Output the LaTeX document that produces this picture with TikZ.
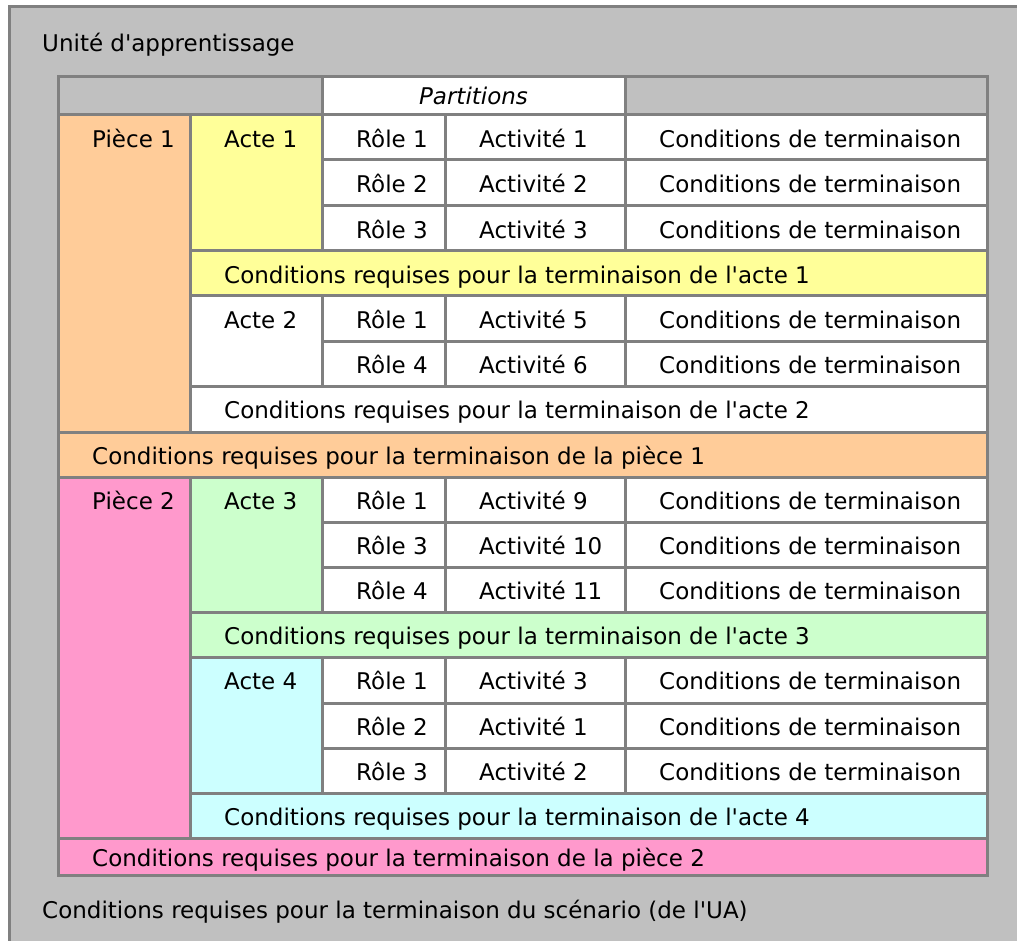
\documentclass[tikz,border=0pt]{standalone}
\usepackage{fontspec}
\setmainfont{DejaVu Sans}[Ligatures=TeXOff]
\definecolor{bggray}{HTML}{C0C0C0}
\definecolor{linegray}{HTML}{808080}
\definecolor{peach}{HTML}{FFCC99}
\definecolor{lyellow}{HTML}{FFFF99}
\definecolor{lgreen}{HTML}{CCFFCC}
\definecolor{lcyan}{HTML}{CCFFFF}
\definecolor{lpink}{HTML}{FF99CC}
\tikzset{
  cellbox/.style={draw=linegray, line width=3pt},
  celltext/.style={anchor=base west, inner sep=0pt, font=\fontsize{23}{27}\selectfont},
}
% name, x1, y1, x2, y2, fill, text
\newcommand\tcell[7]{%
  \filldraw[cellbox, fill=#6] (#2,#3) rectangle (#4,#5);
  \node[celltext] (#1) at ({#2+34},{#3+32.5}) {#7};}
% name, y1, y2, role, activity
\newcommand\rowcells[5]{%
  \tcell{#1r}{322}{#2}{445}{#3}{white}{#4}
  \tcell{#1a}{445}{#2}{625}{#3}{white}{#5}
  \tcell{#1c}{625}{#2}{987}{#3}{white}{Conditions de terminaison}}
\begin{document}
\begin{tikzpicture}[x=1pt,y=-1pt]
\useasboundingbox (0,0) rectangle (1017,941);
\clip (0,0) rectangle (1017,941);
\fill[white] (0,0) rectangle (1017,941);
\filldraw[fill=bggray, draw=linegray, line width=3pt] (9,7) rectangle (1040,960);
\node[celltext] (titre) at (42,51.5) {Unité d'apprentissage};
% header
\filldraw[cellbox, fill=bggray] (58,77) rectangle (322,115);
\filldraw[cellbox, fill=white] (322,77) rectangle (625,115);
\filldraw[cellbox, fill=bggray] (625,77) rectangle (987,115);
\node[celltext, anchor=base, font=\fontsize{23}{27}\selectfont\itshape] (partitions) at (473.5,104.5) {Partitions};
% Piece 1
\tcell{p1}{58}{115}{190}{432}{peach}{Pièce 1}
\tcell{a1}{190}{115}{322}{251}{lyellow}{Acte 1}
\rowcells{a1x}{115}{160}{Rôle 1}{Activité 1}
\rowcells{a1y}{160}{206}{Rôle 2}{Activité 2}
\rowcells{a1z}{206}{251}{Rôle 3}{Activité 3}
\tcell{ca1}{190}{251}{987}{296}{lyellow}{Conditions requises pour la terminaison de l'acte 1}
\tcell{a2}{190}{296}{322}{386}{white}{Acte 2}
\rowcells{a2x}{296}{341}{Rôle 1}{Activité 5}
\rowcells{a2y}{341}{386}{Rôle 4}{Activité 6}
\tcell{ca2}{190}{386}{987}{432}{white}{Conditions requises pour la terminaison de l'acte 2}
\tcell{cp1}{58}{432}{987}{477}{peach}{Conditions requises pour la terminaison de la pièce 1}
% Piece 2
\tcell{p2}{58}{477}{190}{838}{lpink}{Pièce 2}
\tcell{a3}{190}{477}{322}{612}{lgreen}{Acte 3}
\rowcells{a3x}{477}{522}{Rôle 1}{Activité 9}
\rowcells{a3y}{522}{567}{Rôle 3}{Activité 10}
\rowcells{a3z}{567}{612}{Rôle 4}{Activité 11}
\tcell{ca3}{190}{612}{987}{657}{lgreen}{Conditions requises pour la terminaison de l'acte 3}
\tcell{a4}{190}{657}{322}{793}{lcyan}{Acte 4}
\rowcells{a4x}{657}{703}{Rôle 1}{Activité 3}
\rowcells{a4y}{703}{748}{Rôle 2}{Activité 1}
\rowcells{a4z}{748}{793}{Rôle 3}{Activité 2}
\tcell{ca4}{190}{793}{987}{838}{lcyan}{Conditions requises pour la terminaison de l'acte 4}
\filldraw[cellbox, fill=lpink] (58,838) rectangle (987,875);
\node[celltext] (cp2) at (92,866) {Conditions requises pour la terminaison de la pièce 2};
\node[celltext] (cua) at (42,918) {Conditions requises pour la terminaison du scénario (de l'UA)};
\end{tikzpicture}
\end{document}
